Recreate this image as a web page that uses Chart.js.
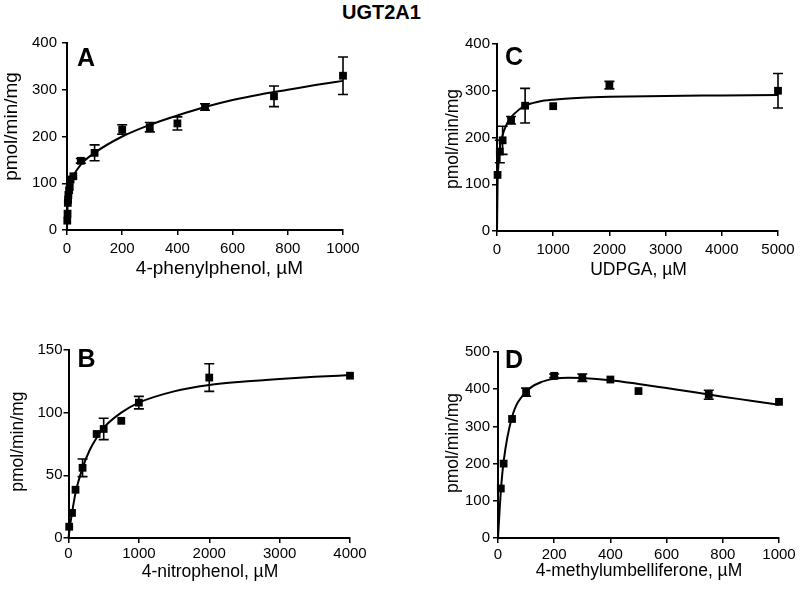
<!DOCTYPE html>
<html><head><meta charset="utf-8">
<script src="https://cdn.jsdelivr.net/npm/chart.js@4.4.1/dist/chart.umd.min.js"></script>
<style>
html,body{margin:0;padding:0;background:#fff;}
#wrap{position:relative;width:800px;height:592px;overflow:hidden;background:#fff;}
.pc{position:absolute;width:400px;height:296px;}
.pc canvas{display:block;}
#title{position:absolute;left:342px;top:2px;font:bold 20px "Liberation Sans",Arial,sans-serif;line-height:20px;color:#000;white-space:nowrap;}
</style></head><body>
<div id="wrap">
<div id="title">UGT2A1</div>
<div class="pc" style="left:0;top:0"><canvas id="cA" width="400" height="296"></canvas></div>
<div class="pc" style="left:0;top:296px"><canvas id="cB" width="400" height="296"></canvas></div>
<div class="pc" style="left:400px;top:0"><canvas id="cC" width="400" height="296"></canvas></div>
<div class="pc" style="left:400px;top:296px"><canvas id="cD" width="400" height="296"></canvas></div>
</div>
<script>
// ---- Panel A: 4-phenylphenol ----
const phenylX   = [1, 2, 3, 4, 5, 7.5, 10, 13, 23, 50, 100, 200, 300, 400, 500, 750, 1000];
const phenylY   = [20, 35, 58, 65, 75, 85, 92, 108, 115, 148, 165, 215, 220, 228, 263, 286, 330];
const phenylSD  = [0, 0, 0, 0, 0, 0, 0, 0, 0, 5, 17, 10, 10, 14, 7, 22, 40];
const phenylFitX = [0, 2, 5, 10, 20, 50, 100, 200, 300, 400, 500, 600, 700, 800, 900, 1000];
const phenylFitY = [0, 50, 80, 100, 113, 140, 165, 200, 225, 245, 263, 278, 290, 300, 310, 319];

// ---- Panel B: 4-nitrophenol ----
const nitroX   = [10, 50, 100, 200, 400, 500, 750, 1000, 2000, 4000];
const nitroY   = [9, 20, 38.5, 56, 83, 87, 93.5, 108, 128, 129.5];
const nitroSD  = [0, 0, 0, 7, 0, 8.5, 0, 5, 11, 0];
const nitroFitX = [0, 25, 50, 100, 200, 300, 400, 500, 750, 1000, 1500, 2000, 2500, 3000, 3500, 4000];
const nitroFitY = [0, 11, 20, 36, 56, 70, 80, 88, 100, 108, 117, 122, 124.8, 126.9, 128.6, 130];

// ---- Panel C: UDPGA ----
const udpgaX   = [10, 50, 100, 250, 500, 1000, 2000, 5000];
const udpgaY   = [120, 170, 194, 237, 268, 267, 312, 300];
const udpgaSD  = [0, 24, 30, 8, 37, 0, 8, 37];
const udpgaFitX = [0, 10, 25, 50, 100, 150, 200, 300, 500, 750, 1000, 1500, 2000, 3000, 4000, 5000];
const udpgaFitY = [0, 100, 140, 175, 205, 222, 235, 250, 268, 277, 281, 285, 287, 289, 290, 291];

// ---- Panel D: 4-methylumbelliferone ----
const muX   = [10, 20, 50, 100, 200, 300, 400, 500, 750, 1000];
const muY   = [133, 200, 320, 392, 436, 431, 426, 395, 385, 366];
const muSD  = [0, 0, 0, 11, 5, 10, 0, 0, 12, 0];
const muFitX = [0, 10, 20, 50, 100, 150, 200, 250, 300, 400, 500, 600, 700, 800, 900, 1000];
const muFitY = [0, 125, 205, 325, 393, 418, 428, 431, 430, 424, 414, 403, 392, 380, 369, 358];

// axis tick settings
const phenylXTicks = {min: 0, max: 1000, step: 200};
const phenylYTicks = {min: 0, max: 400, step: 100};
const nitroXTicks  = {min: 0, max: 4000, step: 1000};
const nitroYTicks  = {min: 0, max: 150, step: 50};
const udpgaXTicks  = {min: 0, max: 5000, step: 1000};
const udpgaYTicks  = {min: 0, max: 400, step: 100};
const muXTicks     = {min: 0, max: 1000, step: 200};
const muYTicks     = {min: 0, max: 500, step: 100};

const FONT = '"Liberation Sans", Arial, Helvetica, sans-serif';
const zip = (xs, ys) => xs.map((x, i) => ({x: x, y: ys[i]}));
const plain = v => String(v);

const errorBarPlugin = {
  id: 'errbars',
  afterDatasetsDraw(chart) {
    const ctx = chart.ctx, xs = chart.scales.x, ys = chart.scales.y;
    chart.data.datasets.forEach(ds => {
      if (!ds.errors) return;
      ds.data.forEach((p, i) => {
        const e = ds.errors[i];
        if (!e) return;
        const px = xs.getPixelForValue(p.x);
        const top = ys.getPixelForValue(p.y + e), bot = ys.getPixelForValue(p.y - e);
        ctx.save();
        ctx.strokeStyle = '#000'; ctx.lineWidth = 1.6;
        ctx.beginPath();
        ctx.moveTo(px, top); ctx.lineTo(px, bot);
        ctx.moveTo(px - 5, top); ctx.lineTo(px + 5, top);
        ctx.moveTo(px - 5, bot); ctx.lineTo(px + 5, bot);
        ctx.stroke();
        ctx.restore();
      });
    });
  }
};

// panel letter + axis titles
function textPlugin(o) {
  return {
    id: 'paneltext',
    afterDraw(chart) {
      const ctx = chart.ctx, a = chart.chartArea;
      ctx.save();
      ctx.fillStyle = '#000';
      ctx.font = 'bold 25px ' + FONT;
      ctx.textBaseline = 'alphabetic';
      ctx.textAlign = 'left';
      ctx.fillText(o.letter, a.left + o.lx, a.top + o.ly);
      ctx.font = o.titleSize + 'px ' + FONT;
      ctx.textAlign = 'center';
      ctx.textBaseline = 'middle';
      ctx.fillText(o.xTitle, o.xtPos[0], o.xtPos[1]);
      ctx.translate(o.ytPos[0], o.ytPos[1]);
      ctx.rotate(-Math.PI / 2);
      ctx.fillText(o.yTitle, 0, 0);
      ctx.restore();
    }
  };
}

function makeChart(id, o) {
  new Chart(document.getElementById(id), {
    type: 'scatter',
    data: {
      datasets: [
        {type: 'line', data: zip(o.fitX, o.fitY), showLine: true, borderColor: '#000', borderWidth: 2,
         pointRadius: 0, cubicInterpolationMode: 'monotone', fill: false, clip: false, order: 2},
        {type: 'scatter', data: zip(o.x, o.y), errors: o.sd, pointStyle: 'rect', pointRadius: 5.5,
         backgroundColor: '#000', borderColor: '#000', borderWidth: 0, clip: false, order: 1}
      ]
    },
    options: {
      responsive: false, animation: false, events: [],
      layout: {padding: o.pad},
      plugins: {legend: {display: false}, tooltip: {enabled: false}},
      scales: {
        x: {type: 'linear', min: o.xt.min, max: o.xt.max,
            ticks: {stepSize: o.xt.step, callback: plain, color: '#000', font: {family: FONT, size: 15}, padding: o.xpad, maxRotation: 0, autoSkip: false},
            grid: {drawOnChartArea: false, drawTicks: true, tickLength: 5, color: '#000', lineWidth: 1.5},
            border: {display: true, color: '#000', width: 2},
            title: {display: false},
            afterFit(s) { s.height = o.xh; }},
        y: {type: 'linear', min: o.yt.min, max: o.yt.max,
            ticks: {stepSize: o.yt.step, callback: plain, color: '#000', font: {family: FONT, size: 15}, padding: o.ypad, autoSkip: false},
            grid: {drawOnChartArea: false, drawTicks: true, tickLength: 5, color: '#000', lineWidth: 1.5},
            border: {display: true, color: '#000', width: 2},
            title: {display: false},
            afterFit(s) { s.width = o.yw; }}
      }
    },
    plugins: [errorBarPlugin, textPlugin(o)]
  });
}

makeChart('cA', {x: phenylX, y: phenylY, sd: phenylSD, fitX: phenylFitX, fitY: phenylFitY,
  xt: phenylXTicks, yt: phenylYTicks, xTitle: '4-phenylphenol, µM', yTitle: 'pmol/min/mg',
  pad: {left: 1, top: 43, right: 57, bottom: 16}, yw: 66, xh: 50, xpad: 5, ypad: 5,
  titleSize: 19, xtPos: [219.5, 269], ytPos: [12, 126.5],
  letter: 'A', lx: 10, ly: 23});
makeChart('cB', {x: nitroX, y: nitroY, sd: nitroSD, fitX: nitroFitX, fitY: nitroFitY,
  xt: nitroXTicks, yt: nitroYTicks, xTitle: '4-nitrophenol, µM', yTitle: 'pmol/min/mg',
  pad: {left: 7, top: 54, right: 50, bottom: 9}, yw: 61.5, xh: 45, xpad: 2, ypad: 1,
  titleSize: 17.5, xtPos: [210, 276], ytPos: [18, 145.7],
  letter: 'B', lx: 9, ly: 17});
makeChart('cC', {x: udpgaX, y: udpgaY, sd: udpgaSD, fitX: udpgaFitX, fitY: udpgaFitY,
  xt: udpgaXTicks, yt: udpgaYTicks, xTitle: 'UDPGA, µM', yTitle: 'pmol/min/mg',
  pad: {left: 42, top: 44, right: 22, bottom: 15}, yw: 55, xh: 50, xpad: 5, ypad: 2,
  titleSize: 17.5, xtPos: [238.5, 270], ytPos: [53, 139],
  letter: 'C', lx: 8, ly: 21});
makeChart('cD', {x: muX, y: muY, sd: muSD, fitX: muFitX, fitY: muFitY,
  xt: muXTicks, yt: muYTicks, xTitle: '4-methylumbelliferone, µM', yTitle: 'pmol/min/mg',
  pad: {left: 42, top: 56, right: 21, bottom: 9}, yw: 56, xh: 45, xpad: 3, ypad: 3,
  titleSize: 17.5, xtPos: [239, 275.5], ytPos: [53, 147],
  letter: 'D', lx: 7, ly: 16});
</script>
</body></html>
